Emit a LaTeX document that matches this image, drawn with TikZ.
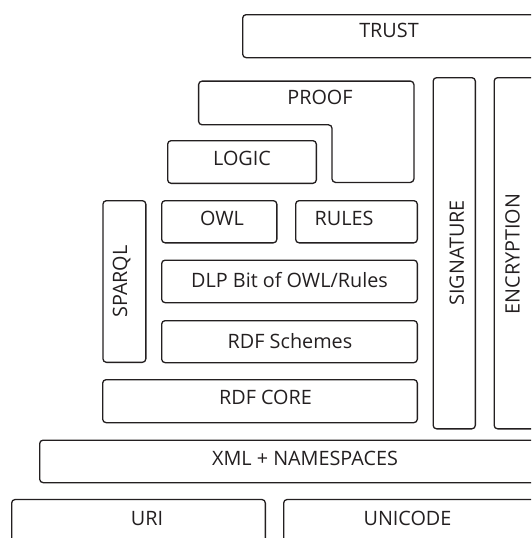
\documentclass[tikz,border=0pt]{standalone}
\usepackage{fontspec}
\setmainfont{Open Sans}
\definecolor{ink}{HTML}{231F20}
\tikzset{
  lay/.style={draw=ink, line width=1.3pt, rounded corners=3.5pt, inner sep=0pt, text=ink},
  lbl/.style={inner sep=0pt, text=ink, font=\fontsize{19.8}{23}\selectfont, text height=0.714em, text depth=0pt},
}
\begin{document}
\begin{tikzpicture}[x=1pt,y=-1pt]
\useasboundingbox (0,0) rectangle (531,538);
\begin{scope}
\clip (0,0) rectangle (531,538);
% TRUST
\node[lay, minimum width=316.7pt, minimum height=43pt] (trust) at (401,36.15) {};
\node[lbl] (trustT) at (389,33.5) {TRUST};
% PROOF (L shape)
\draw[lay] (198.6,81.1) -- (413.9,81.1) -- (413.9,182.4) -- (332,182.4) -- (332,124.8) -- (198.6,124.8) -- cycle;
\node[lbl] (proofT) at (320,101) {PROOF};
% LOGIC
\node[lay, minimum width=148.7pt, minimum height=42.7pt] (logic) at (242,162) {};
\node[lbl] (logicT) at (242,162) {LOGIC};
% SIGNATURE
\node[lay, minimum width=42.2pt, minimum height=351.2pt] (sig) at (454.25,253.25) {};
\node[lbl, rotate=90] (sigT) at (460.3,252.8) {SIGNATURE};
% ENCRYPTION
\node[lay, minimum width=65.2pt, minimum height=351.2pt] (enc) at (526.75,253.25) {};
\node[lbl, rotate=90] (encT) at (516,254) {ENCRYPTION};
% SPARQL
\node[lay, minimum width=42.9pt, minimum height=161.7pt] (sparql) at (124.4,281.5) {};
\node[lbl, rotate=90] (sparqlT) at (123.5,281.5) {SPARQL};
% OWL
\node[lay, minimum width=115.2pt, minimum height=42.2pt] (owl) at (219.25,221.75) {};
\node[lbl] (owlT) at (222,221.5) {OWL};
% RULES
\node[lay, minimum width=121.7pt, minimum height=42.2pt] (rules) at (356.5,221.75) {};
\node[lbl] (rulesT) at (344,221.5) {RULES};
% DLP
\node[lay, minimum width=255.7pt, minimum height=42.5pt] (dlp) at (289.5,281.4) {};
\node[lbl] (dlpT) at (289.5,284) {DLP Bit of OWL/Rules};
% RDF Schemes
\node[lay, minimum width=255.7pt, minimum height=42pt] (rdfs) at (289.5,341.65) {};
\node[lbl] (rdfsT) at (290,344.5) {RDF Schemes};
% RDF CORE
\node[lay, minimum width=314.7pt, minimum height=43pt] (rdfc) at (260,401.15) {};
\node[lbl] (rdfcT) at (265.5,401) {RDF CORE};
% XML
\node[lay, minimum width=559.7pt, minimum height=42.5pt] (xml) at (319.5,461.4) {};
\node[lbl] (xmlT) at (305,461.5) {XML + NAMESPACES};
% URI
\node[lay, minimum width=253.7pt, minimum height=100pt] (uri) at (138.5,549.5) {};
\node[lbl] (uriT) at (147,522) {URI};
% UNICODE
\node[lay, minimum width=275.7pt, minimum height=100pt] (uni) at (421.5,549.5) {};
\node[lbl] (uniT) at (407.5,522) {UNICODE};
\end{scope}
\end{tikzpicture}
\end{document}
